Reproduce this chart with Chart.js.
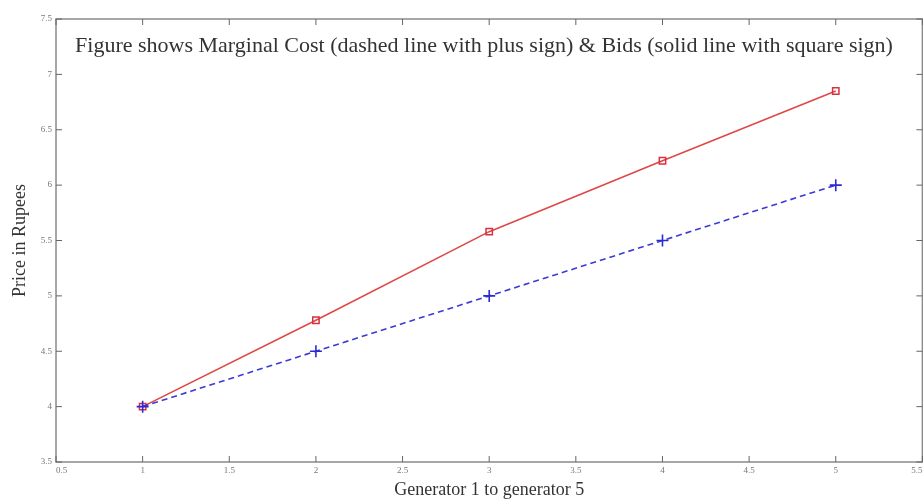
<!DOCTYPE html>
<html>
<head>
<meta charset="utf-8">
<script src="https://cdn.jsdelivr.net/npm/chart.js@4.4.1/dist/chart.umd.min.js"></script>
<style>
  html, body { margin: 0; padding: 0; background: #fff; overflow: hidden; }
  canvas { display: block; }
</style>
</head>
<body>
<canvas id="myChart" width="930" height="501"></canvas>
<script>
// generators on the x axis
const generators = [1, 2, 3, 4, 5];
// marginal cost (dashed, plus sign)
const marginalCost = [4.0, 4.5, 5.0, 5.5, 6.0];
// bids (solid, square sign)
const bids = [4.0, 4.78, 5.58, 6.22, 6.85];

const titleText = "Figure shows Marginal Cost (dashed line with plus sign) & Bids (solid line with square sign)";

// box round the plot plus matlab style ticks pointing inwards
const boxPlugin = {
    id: 'box',
    afterDraw(chart) {
        const ctx = chart.ctx;
        const a = chart.chartArea;
        ctx.save();
        ctx.strokeStyle = '#8a8a8a';
        ctx.lineWidth = 1.5;
        ctx.strokeRect(a.left, a.top, a.right - a.left, a.bottom - a.top);
        ctx.lineWidth = 1;
        ctx.strokeStyle = '#666';
        const len = 6;
        chart.scales.x.ticks.forEach(t => {
            const px = chart.scales.x.getPixelForValue(t.value);
            ctx.beginPath();
            ctx.moveTo(px, a.bottom); ctx.lineTo(px, a.bottom - len);
            ctx.moveTo(px, a.top); ctx.lineTo(px, a.top + len);
            ctx.stroke();
        });
        chart.scales.y.ticks.forEach(t => {
            const py = chart.scales.y.getPixelForValue(t.value);
            ctx.beginPath();
            ctx.moveTo(a.left, py); ctx.lineTo(a.left + len, py);
            ctx.moveTo(a.right, py); ctx.lineTo(a.right - len, py);
            ctx.stroke();
        });
        // text inside the plot
        ctx.fillStyle = '#333';
        ctx.font = '22px "Liberation Serif", "DejaVu Serif", serif';
        ctx.textAlign = 'center';
        ctx.textBaseline = 'middle';
        ctx.fillText(titleText, 484, 46);
        ctx.restore();
    }
};

const tickFmt = v => String(Number(v.toFixed(1)));

const ctx = document.getElementById('myChart').getContext('2d');
const myChart = new Chart(ctx, {
    type: 'line',
    data: {
        datasets: [{
            label: 'Marginal Cost',
            data: generators.map((g, i) => ({ x: g, y: marginalCost[i] })),
            borderColor: '#3a3ad6',
            borderWidth: 1.6,
            borderDash: [6, 4],
            pointStyle: 'cross',
            pointRadius: 6,
            pointBorderWidth: 1.6,
            pointBorderColor: '#2a2ad0',
            pointBackgroundColor: '#2a2ad0',
            fill: false,
            tension: 0
        }, {
            label: 'Bids',
            data: generators.map((g, i) => ({ x: g, y: bids[i] })),
            borderColor: '#e04848',
            borderWidth: 1.6,
            pointStyle: 'rect',
            pointRadius: 4.5,
            pointBorderWidth: 1.5,
            pointBorderColor: '#d83040',
            pointBackgroundColor: 'rgba(255,255,255,0)',
            fill: false,
            tension: 0
        }]
    },
    options: {
        responsive: false,
        animation: false,
        layout: { padding: { top: 19, right: 1, left: 0, bottom: 0 } },
        plugins: {
            legend: { display: false },
            tooltip: { enabled: false }
        },
        scales: {
            x: {
                type: 'linear',
                min: 0.5,
                max: 5.5,
                ticks: {
                    stepSize: 0.5,
                    align: 'inner',
                    color: '#777',
                    font: { size: 9, family: '"Liberation Serif", serif' },
                    padding: 3,
                    callback: tickFmt
                },
                grid: { display: false, drawTicks: false },
                border: { display: false },
                title: {
                    display: true,
                    text: 'Generator 1 to generator 5',
                    color: '#333',
                    font: { size: 18, family: '"Liberation Serif", serif' },
                    padding: { top: 8, bottom: 0 }
                },
                afterFit(scale) {
                    scale.height = 39;
                    scale.paddingLeft = 0;
                    scale.paddingRight = 0;
                }
            },
            y: {
                min: 3.5,
                max: 7.5,
                ticks: {
                    stepSize: 0.5,
                    color: '#777',
                    font: { size: 9, family: '"Liberation Serif", serif' },
                    padding: 4,
                    callback: tickFmt
                },
                grid: { display: false, drawTicks: false },
                border: { display: false },
                title: {
                    display: true,
                    text: 'Price in Rupees',
                    color: '#333',
                    font: { size: 18, family: '"Liberation Serif", serif' },
                    padding: { top: 9, bottom: 4 }
                },
                afterFit(scale) {
                    scale.width = 56;
                }
            }
        }
    },
    plugins: [boxPlugin]
});
</script>
</body>
</html>
